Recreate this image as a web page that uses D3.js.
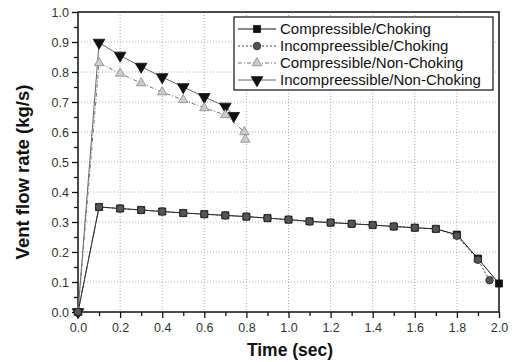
<!DOCTYPE html>
<html><head><meta charset="utf-8">
<script src="https://cdn.jsdelivr.net/npm/d3@7/dist/d3.min.js"></script>
<style>body{margin:0;background:#fff}svg{display:block}</style>
</head><body>
<script>
const timeChoke = [0,0.1,0.2,0.3,0.4,0.5,0.6,0.7,0.8,0.9,1.0,1.1,1.2,1.3,1.4,1.5,1.6,1.7,1.8,1.9,2.0];
const compChoke = [0,0.35,0.345,0.34,0.335,0.33,0.326,0.322,0.318,0.313,0.308,0.302,0.298,0.294,0.29,0.285,0.281,0.277,0.258,0.178,0.095];
const timeIncChoke = [0,0.1,0.2,0.3,0.4,0.5,0.6,0.7,0.8,0.9,1.0,1.1,1.2,1.3,1.4,1.5,1.6,1.7,1.8,1.9,1.955];
const incChoke = [0,0.35,0.345,0.34,0.335,0.33,0.326,0.322,0.318,0.313,0.308,0.302,0.298,0.294,0.29,0.285,0.281,0.277,0.254,0.174,0.106];
const timeCompNC = [0,0.1,0.2,0.3,0.4,0.5,0.6,0.7,0.79,0.795];
const compNC = [0,0.83,0.795,0.763,0.733,0.707,0.68,0.657,0.6,0.575];
const timeIncNC = [0,0.1,0.2,0.3,0.4,0.5,0.6,0.7,0.74];
const incNC = [0,0.898,0.855,0.818,0.783,0.75,0.717,0.685,0.654];
const seriesNames = ["Compressible/Choking","Incompreessible/Choking","Compressible/Non-Choking","Incompreessible/Non-Choking"];
const xTicks = [0,0.2,0.4,0.6,0.8,1.0,1.2,1.4,1.6,1.8,2.0];
const yTicks = [0,0.1,0.2,0.3,0.4,0.5,0.6,0.7,0.8,0.9,1.0];

const W=517,H=362, L=78,R=499,T=12,B=312;
const svg=d3.select("body").append("svg").attr("width",W).attr("height",H);
const x=d3.scaleLinear().domain([0,2]).range([L,R]);
const y=d3.scaleLinear().domain([0,1]).range([B,T]);

// grid
const grid=svg.append("g").attr("stroke","#999").attr("stroke-width",0.8).attr("stroke-dasharray","1,2");
xTicks.slice(1,-1).forEach(v=>grid.append("line").attr("x1",x(v)).attr("x2",x(v)).attr("y1",T).attr("y2",B));
yTicks.slice(1,-1).forEach(v=>grid.append("line").attr("x1",L).attr("x2",R).attr("y1",y(v)).attr("y2",y(v)));

// axes
const font="'Liberation Sans', Arial, sans-serif";
const xAxis=d3.axisBottom(x).tickValues(xTicks).tickFormat(d3.format(".1f")).tickSize(6).tickPadding(5);
const xMinor=d3.axisBottom(x).tickValues(d3.range(0.1,2,0.2)).tickFormat("").tickSize(4);
const yAxis=d3.axisLeft(y).tickValues(yTicks).tickFormat(d3.format(".1f")).tickSize(6).tickPadding(3);
const yMinor=d3.axisLeft(y).tickValues(d3.range(0.05,1,0.1)).tickFormat("").tickSize(4);
[ [xAxis,`translate(0,${B})`],[xMinor,`translate(0,${B})`],[yAxis,`translate(${L},0)`],[yMinor,`translate(${L},0)`] ].forEach(([a,t])=>{
  const g=svg.append("g").attr("transform",t).call(a);
  g.select(".domain").remove();
  g.selectAll("line").attr("stroke","#111").attr("stroke-width",1.3);
  g.selectAll("text").attr("font-family",font).attr("font-size",12.5).attr("fill","#333");
});
// frame
svg.append("rect").attr("x",L).attr("y",T).attr("width",R-L).attr("height",B-T).attr("fill","none").attr("stroke","#111").attr("stroke-width",1.5);

// titles
svg.append("text").attr("x",290).attr("y",356).attr("text-anchor","middle").attr("font-family",font).attr("font-weight","bold").attr("font-size",17.5).attr("fill","#111").text("Time (sec)");
svg.append("text").attr("transform",`translate(29,172) rotate(-90)`).attr("text-anchor","middle").attr("font-family",font).attr("font-weight","bold").attr("font-size",18.5).attr("fill","#111").text("Vent flow rate (kg/s)");

const line=d3.line().x(d=>x(d[0])).y(d=>y(d[1]));
const zip=(a,b)=>a.map((v,i)=>[v,b[i]]);
const styles=[
  {t:timeChoke,v:compChoke,stroke:"#111",dash:null,w:1,marker:"square",fill:"#111",mstroke:"#111"},
  {t:timeIncChoke,v:incChoke,stroke:"#444",dash:"2,2",w:1,marker:"circle",fill:"#555",mstroke:"#222"},
  {t:timeCompNC,v:compNC,stroke:"#777",dash:"4,2,1,2",w:1,marker:"triangle",fill:"#ccc",mstroke:"#888"},
  {t:timeIncNC,v:incNC,stroke:"#666",dash:null,w:1,marker:"triangleDown",fill:"#111",mstroke:"#111"}
];
const sym={square:d3.symbolSquare,circle:d3.symbolCircle,triangle:d3.symbolTriangle,triangleDown:d3.symbolTriangle};
const sizes={square:50,circle:45,triangle:38,triangleDown:58};
function marker(g,s,cx,cy){
  g.append("path").attr("d",d3.symbol().type(sym[s.marker]).size(sizes[s.marker])())
   .attr("transform",`translate(${cx},${cy})`+(s.marker==="triangleDown"?" rotate(180)":""))
   .attr("fill",s.fill).attr("stroke",s.mstroke).attr("stroke-width",0.8);
}
const order=[3,2,0,1];
order.forEach(i=>{
  const s=styles[i];
  svg.append("path").datum(zip(s.t,s.v)).attr("d",line).attr("fill","none").attr("stroke",s.stroke).attr("stroke-width",s.w).attr("stroke-dasharray",s.dash);
});
order.forEach(i=>{
  const s=styles[i];const g=svg.append("g");
  zip(s.t,s.v).forEach(d=>marker(g,s,x(d[0]),y(d[1])));
});

// legend
const lg=svg.append("g");
lg.append("rect").attr("x",234).attr("y",17).attr("width",259).attr("height",73).attr("fill","#fff").attr("stroke","#111").attr("stroke-width",1.2);
const ly=[29,46,63,80];
styles.forEach((s,i)=>{
  lg.append("line").attr("x1",238).attr("x2",276).attr("y1",ly[i]).attr("y2",ly[i]).attr("stroke",s.stroke).attr("stroke-width",1).attr("stroke-dasharray",s.dash);
  marker(lg,s,257,ly[i]);
  lg.append("text").attr("x",280).attr("y",ly[i]+5).attr("font-family",font).attr("font-size",15).attr("fill","#111").text(seriesNames[i]);
});
</script>
</body></html>
